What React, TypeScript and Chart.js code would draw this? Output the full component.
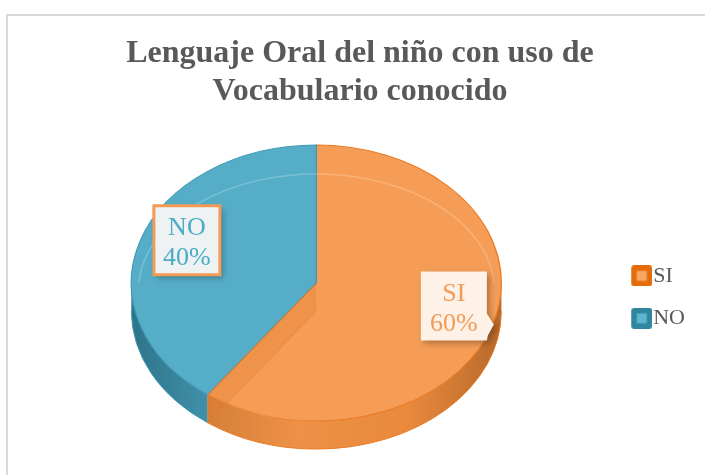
import { useEffect, useRef } from 'react';
import { Chart, registerables } from 'chart.js';

Chart.register(...registerables);

const TITLE_LINES = ['Lenguaje Oral del niño con uso de', 'Vocabulario conocido'];
const CATEGORIES = ['SI', 'NO'];
const VALUES = [60, 40];

const TOP_COLORS = ['#F59D56', '#55ADC8'];
const RIM_COLORS = ['#EA7A22', '#3E9AB6'];
const SIDE_STOPS: [number, string][][] = [
  [[0, '#C0712F'], [0.45, '#EE9146'], [0.75, '#E8893C'], [1, '#B86A2C']],
  [[0, '#2F7489'], [0.2, '#3F8FA8'], [1, '#4AA3BE']],
];
const LEGEND_OUTER = ['#E46C0A', '#31859C'];
const LEGEND_INNER = ['#F9A765', '#5DB5D0'];
const LABEL_FILL = ['#FDF1E8', '#EEF2F2'];
const LABEL_TEXT = ['#F39B55', '#4BACC6'];
const LABEL_BORDER: (string | null)[] = [null, '#F39B55'];
const LABEL_TAB = [true, false];
const LABEL_NUDGE_X = [2, 6];

const SERIF = "'Liberation Serif', 'Times New Roman', serif";
const RX = 185;
const RY = 138;
const DEPTH = 28;
const LABEL_R = 0.77;
const LABEL_DY = -10;
const LABEL_W = 66;
const LABEL_H = 69;

function makeLegendImage(outer: string, inner: string, w: number, size: number) {
  const c = document.createElement('canvas');
  c.width = w;
  c.height = size;
  const g = c.getContext('2d')!;
  const x0 = w - size;
  g.fillStyle = outer;
  g.beginPath();
  (g as any).roundRect(x0, 0, size, size, 3);
  g.fill();
  const s = Math.round(size * 0.48);
  g.fillStyle = inner;
  g.fillRect(x0 + (size - s) / 2, (size - s) / 2, s, s);
  return c;
}

function frontSegments(s: number, e: number) {
  const out: [number, number][] = [];
  for (let k = -2; k <= 2; k++) {
    const off = 2 * Math.PI * k;
    const lo = Math.max(s, off);
    const hi = Math.min(e, Math.PI + off);
    if (hi > lo) out.push([lo - off, hi - off]);
  }
  return out;
}

const pie3d = {
  id: 'pie3d',
  _saved: false,
  beforeDatasetsDraw(chart: any) {
    const arcs = chart.getDatasetMeta(0).data;
    (pie3d as any)._saved = false;
    if (!arcs.length) return;
    const ctx: CanvasRenderingContext2D = chart.ctx;
    const a0 = arcs[0];
    const R = a0.outerRadius;
    const cx = a0.x;
    const cy = a0.y - DEPTH / 2;
    arcs.forEach((arc: any, i: number) => {
      frontSegments(arc.startAngle, arc.endAngle).forEach(([s, e]) => {
        const grad = ctx.createLinearGradient(cx - RX, 0, cx + RX, 0);
        SIDE_STOPS[i].forEach(([o, c]) => grad.addColorStop(o, c));
        ctx.beginPath();
        ctx.ellipse(cx, cy, RX, RY, 0, s, e, false);
        ctx.lineTo(cx + RX * Math.cos(e), cy + RY * Math.sin(e) + DEPTH);
        ctx.ellipse(cx, cy + DEPTH, RX, RY, 0, e, s, true);
        ctx.closePath();
        ctx.fillStyle = grad;
        ctx.fill();
        ctx.beginPath();
        ctx.ellipse(cx, cy + DEPTH, RX, RY, 0, s, e, false);
        ctx.strokeStyle = RIM_COLORS[i];
        ctx.lineWidth = 1;
        ctx.stroke();
      });
    });
    ctx.save();
    (pie3d as any)._saved = true;
    ctx.translate(cx, cy);
    ctx.scale(RX / R, RY / R);
    ctx.translate(-a0.x, -a0.y);
  },
  afterDatasetsDraw(chart: any) {
    if (!(pie3d as any)._saved) return;
    const ctx: CanvasRenderingContext2D = chart.ctx;
    ctx.restore();
    const arcs = chart.getDatasetMeta(0).data;
    const a0 = arcs[0];
    const cx = a0.x;
    const cy = a0.y - DEPTH / 2;

    // bevel highlight
    ctx.save();
    ctx.beginPath();
    ctx.ellipse(cx, cy + 7, RX - 7, RY - 22, 0, Math.PI * 1.02, Math.PI * 1.98, false);
    ctx.strokeStyle = 'rgba(255,255,255,0.22)';
    ctx.lineWidth = 1.5;
    ctx.stroke();
    ctx.restore();

    // radial wall
    arcs.forEach((arc: any, i: number) => {
      let e = arc.endAngle % (2 * Math.PI);
      if (e < 0) e += 2 * Math.PI;
      if (e > Math.PI / 2 && e < Math.PI) {
        const px = cx + RX * Math.cos(e);
        const py = cy + RY * Math.sin(e);
        ctx.beginPath();
        ctx.moveTo(cx, cy);
        ctx.lineTo(px, py);
        ctx.lineTo(px, py + DEPTH);
        ctx.lineTo(cx, cy + DEPTH);
        ctx.closePath();
        ctx.fillStyle = 'rgba(228,122,44,0.28)';
        ctx.fill();
        ctx.beginPath();
        ctx.moveTo(cx, cy + DEPTH);
        ctx.lineTo(px, py + DEPTH);
        ctx.lineTo(px, py);
        ctx.strokeStyle = 'rgba(226,116,36,0.45)';
        ctx.lineWidth = 1;
        ctx.stroke();
        ctx.beginPath();
        ctx.moveTo(cx, cy);
        ctx.lineTo(px, py);
        ctx.strokeStyle = RIM_COLORS[i];
        ctx.stroke();
      }
    });

    // data labels
    const values: number[] = chart.data.datasets[0].data;
    const total = values.reduce((a, b) => a + b, 0);
    arcs.forEach((arc: any, i: number) => {
      const mid = (arc.startAngle + arc.endAngle) / 2;
      const lx = cx + LABEL_R * RX * Math.cos(mid) + LABEL_NUDGE_X[i];
      const ly = cy + LABEL_R * RY * Math.sin(mid) + LABEL_DY;
      const left = lx - LABEL_W / 2;
      const top = ly - LABEL_H / 2;
      const right = left + LABEL_W;
      const bottom = top + LABEL_H;
      ctx.save();
      ctx.beginPath();
      ctx.moveTo(left, top);
      ctx.lineTo(right, top);
      if (LABEL_TAB[i]) {
        ctx.lineTo(right, top + 42);
        ctx.lineTo(right + 7, top + 53);
        ctx.lineTo(right + 1, top + 64);
      }
      ctx.lineTo(right, bottom);
      ctx.lineTo(left, bottom);
      ctx.closePath();
      ctx.shadowColor = 'rgba(0,0,0,0.28)';
      ctx.shadowBlur = 6;
      ctx.shadowOffsetX = 3;
      ctx.shadowOffsetY = 3;
      ctx.fillStyle = LABEL_FILL[i];
      ctx.fill();
      ctx.shadowColor = 'transparent';
      if (LABEL_BORDER[i]) {
        ctx.strokeStyle = LABEL_BORDER[i]!;
        ctx.lineWidth = 3;
        ctx.stroke();
      }
      ctx.fillStyle = LABEL_TEXT[i];
      ctx.font = `26px ${SERIF}`;
      ctx.textAlign = 'center';
      ctx.textBaseline = 'alphabetic';
      const pct = Math.round((values[i] / total) * 100);
      ctx.fillText(String(chart.data.labels[i]), lx, ly - 5);
      ctx.fillText(`${pct}%`, lx, ly + 25);
      ctx.restore();
    });
  },
};

export default function App() {
  const ref = useRef<HTMLCanvasElement>(null);
  useEffect(() => {
    if (!ref.current) return;
    const legendImages = CATEGORIES.map((_, i) => makeLegendImage(LEGEND_OUTER[i], LEGEND_INNER[i], 34, 21));
    const chart = new Chart(ref.current, {
      type: 'pie',
      data: {
        labels: CATEGORIES,
        datasets: [
          {
            data: VALUES,
            backgroundColor: TOP_COLORS,
            borderColor: RIM_COLORS,
            borderWidth: 1.2,
            hoverOffset: 0,
            clip: false as any,
          } as any,
        ],
      },
      options: {
        animation: false,
        responsive: false,
        events: [],
        layout: { padding: { top: 14, left: 25, right: 10, bottom: 0 } },
        plugins: {
          title: {
            display: true,
            text: TITLE_LINES,
            color: '#595959',
            font: { family: SERIF, size: 32, weight: 'bold', lineHeight: 1.19 },
            padding: { top: 21, bottom: 8 },
          },
          legend: {
            position: 'right',
            fullSize: false,
            labels: {
              usePointStyle: true,
              pointStyleWidth: 14,
              padding: 20.5,
              color: '#595959',
              font: { family: SERIF, size: 22 },
              generateLabels: (c: any) =>
                c.data.labels.map((t: string, i: number) => ({
                  text: t,
                  pointStyle: legendImages[i],
                  fillStyle: 'transparent',
                  strokeStyle: 'transparent',
                  lineWidth: 0,
                  hidden: false,
                  index: i,
                  fontColor: '#595959',
                })),
            },
          },
          tooltip: { enabled: false },
        },
      } as any,
      plugins: [pie3d as any],
    });
    return () => chart.destroy();
  }, []);

  return (
    <div style={{ position: 'fixed', left: 0, top: 0, width: 705, height: 475, overflow: 'hidden', background: '#fff' }}>
      <div
        style={{
          position: 'absolute',
          left: 6,
          top: 14,
          width: 740,
          height: 500,
          border: '2px solid #D9D9D9',
          boxSizing: 'border-box',
        }}
      />
      <canvas ref={ref} width={705} height={475} style={{ position: 'absolute', left: 0, top: 0 }} />
    </div>
  );
}
